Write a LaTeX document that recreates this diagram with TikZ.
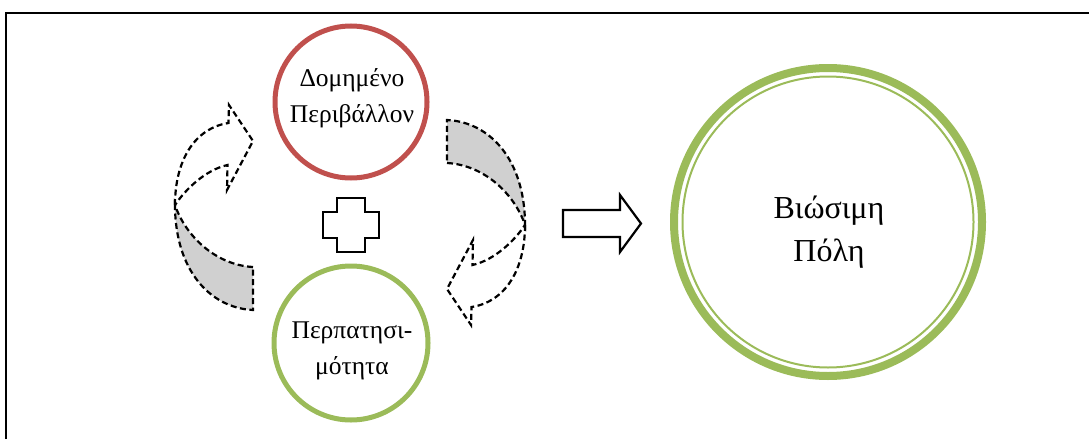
\documentclass[tikz,border=0pt]{standalone}
\usepackage{fontspec}
\setmainfont{Liberation Serif}
\definecolor{ored}{HTML}{C0504D}
\definecolor{ogreen}{HTML}{9BBB59}
\definecolor{ogray}{HTML}{D0D0D0}
\tikzset{
  ring/.style={circle, draw, line width=5pt, inner sep=0pt},
  smalltext/.style={align=center, inner sep=0pt, anchor=base,
    font=\fontsize{25.5}{36}\selectfont},
  bigtext/.style={align=center, inner sep=0pt, anchor=base,
    font=\fontsize{32}{43}\selectfont},
  dashline/.style={line width=2.2pt, dash pattern=on 6pt off 3.5pt, line join=miter},
  solidshape/.style={line width=2.2pt, fill=white, line join=miter},
}
\begin{document}
\begin{tikzpicture}[x=1pt,y=-1pt]
\useasboundingbox (0,0) rectangle (1089,439);
% frame
\draw[line width=2pt] (6,439) -- (6,13) -- (1089,13);
% circles
\node[ring, draw=ored, minimum size=152pt] (dp) at (351,102) {};
\node[smalltext] (dpt) at (352,122) {Δομημένο\\Περιβάλλον};
\node[ring, draw=ogreen, minimum size=154pt] (pm) at (351,343) {};
\node[smalltext] (pmt) at (352,374) {Περπατησι-\\μότητα};
\node[circle, draw=ogreen, line width=8pt, minimum size=308pt, inner sep=0pt] (vp) at (828,222) {};
\draw[ogreen, line width=2pt] (vp.center) circle[radius=145.5pt];
\node[bigtext] (vpt) at (829,261) {Βιώσιμη\\Πόλη};
% plus sign
\draw[solidshape] (337,198) -- (365,198) -- (365,212) -- (379,212) -- (379,238) -- (365,238)
  -- (365,252) -- (337,252) -- (337,238) -- (323,238) -- (323,212) -- (337,212) -- cycle;
% block arrow
\draw[solidshape] (563,210) -- (620,210) -- (620,195) -- (641,223.5) -- (620,252) -- (620,237)
  -- (563,237) -- cycle;
% curved arrows
\foreach \ang in {0,180}{
\begin{scope}[rotate around={\ang:(350,215)}]
  \filldraw[dashline, fill=ogray] (253,267) .. controls (215,265) and (185,235) .. (175,205)
     .. controls (175,270) and (210,308) .. (253,310) -- cycle;
  \draw[dashline] (175,205) .. controls (175,160) and (195,128) .. (228.5,123) -- (229,105)
     -- (253,141) -- (227,190) -- (227.5,165) .. controls (205,170) and (185,190) .. (175,205);
\end{scope}
}
\end{tikzpicture}
\end{document}
